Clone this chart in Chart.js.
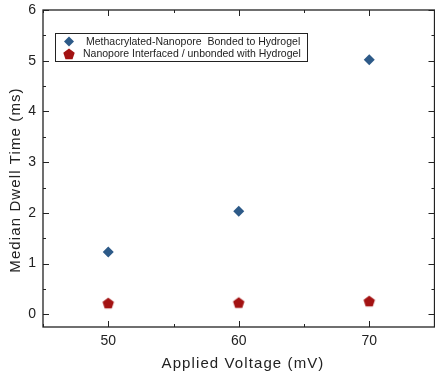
<!DOCTYPE html>
<html>
<head>
<meta charset="utf-8">
<script src="https://cdn.jsdelivr.net/npm/chart.js@4.4.0/dist/chart.umd.min.js"></script>
<style>
  html, body { margin: 0; padding: 0; background: #fff; overflow: hidden; }
  #wrap { width: 440px; height: 379px; position: relative; }
</style>
</head>
<body>
<div id="wrap"><canvas id="grafico"></canvas></div>
<script>
const voltagens = [50, 60, 70];
const tempoLigado = [1.23, 2.03, 5.02];
const tempoNaoLigado = [0.22, 0.23, 0.26];
const rotulosSeries = ['Methacrylated-Nanopore  Bonded to Hydrogel', 'Nanopore Interfaced / unbonded with Hydrogel'];
const tituloX = 'Applied Voltage (mV)';
const tituloY = 'Median Dwell Time (ms)';
const ticksX = [50, 60, 70];
const ticksY = [0, 1, 2, 3, 4, 5, 6];

const fonte = '"Liberation Sans", Arial, sans-serif';

// pentagono desenhado num canvas pequeno, usado como pointStyle
function criaPentagono(cor, r) {
  const c = document.createElement('canvas');
  const s = Math.ceil(r * 2 + 2);
  c.width = s; c.height = s;
  const g = c.getContext('2d');
  g.fillStyle = cor;
  g.beginPath();
  for (let i = 0; i < 5; i++) {
    const a = -Math.PI / 2 + i * 2 * Math.PI / 5;
    const x = s / 2 + r * Math.cos(a), y = s / 2 + r * Math.sin(a) + 0.5;
    if (i === 0) g.moveTo(x, y); else g.lineTo(x, y);
  }
  g.closePath();
  g.fill();
  return c;
}
const pentagono = criaPentagono('#a31212', 6);

const molduraTicks = {
  id: 'molduraTicks',
  afterDraw(chart) {
    const { ctx, chartArea: a, scales: { x, y } } = chart;
    ctx.save();
    ctx.strokeStyle = '#222';
    ctx.lineWidth = 1.3;
    ctx.strokeRect(a.left, a.top, a.right - a.left, a.bottom - a.top);
    ctx.lineWidth = 1;
    ctx.beginPath();
    for (let v = 45; v <= 75; v += 5) {
      const px = Math.round(x.getPixelForValue(v)) + 0.5;
      const len = v % 10 === 0 ? 6 : 3;
      ctx.moveTo(px, a.bottom); ctx.lineTo(px, a.bottom - len);
      ctx.moveTo(px, a.top); ctx.lineTo(px, a.top + len);
    }
    for (let v = 0; v <= 6; v += 0.5) {
      const py = Math.round(y.getPixelForValue(v)) + 0.5;
      const len = Number.isInteger(v) ? 6 : 3;
      ctx.moveTo(a.left, py); ctx.lineTo(a.left + len, py);
      ctx.moveTo(a.right, py); ctx.lineTo(a.right - len, py);
    }
    ctx.stroke();

    // titulos dos eixos
    ctx.fillStyle = '#222';
    ctx.font = '15px ' + fonte;
    ctx.letterSpacing = '1.1px';
    ctx.textAlign = 'center';
    ctx.textBaseline = 'middle';
    ctx.fillText(tituloX, 243, 364);
    ctx.save();
    ctx.translate(16, 180);
    ctx.rotate(-Math.PI / 2);
    ctx.fillText(tituloY, 0, 0);
    ctx.restore();
    ctx.letterSpacing = '0px';

    // legenda com moldura
    const bx = 55.5, by = 33.5, bw = 252, bh = 28;
    ctx.fillStyle = '#fff';
    ctx.fillRect(bx, by, bw, bh);
    ctx.strokeStyle = '#222';
    ctx.strokeRect(bx, by, bw, bh);
    ctx.font = '10.5px ' + fonte;
    ctx.textAlign = 'left';
    chart.data.datasets.forEach((ds, i) => {
      const cy = by + 8 + i * 12.5;
      if (ds.pointStyle === 'rectRot') {
        ctx.fillStyle = ds.backgroundColor;
        ctx.beginPath();
        ctx.moveTo(69, cy - 5); ctx.lineTo(74, cy); ctx.lineTo(69, cy + 5); ctx.lineTo(64, cy);
        ctx.closePath(); ctx.fill();
      } else {
        ctx.drawImage(ds.pointStyle, 69 - ds.pointStyle.width / 2, cy - ds.pointStyle.height / 2);
      }
      ctx.fillStyle = '#222';
      ctx.fillText(ds.label, i === 0 ? 86 : 83, cy + 0.5);
    });
    ctx.restore();
  }
};

new Chart(document.getElementById('grafico'), {
  type: 'scatter',
  plugins: [molduraTicks],
  data: {
    datasets: [
      { label: rotulosSeries[0], data: voltagens.map((v, i) => ({ x: v, y: tempoLigado[i] })), pointStyle: 'rectRot', pointRadius: 5.5, backgroundColor: '#2d5a88', borderColor: '#2d5a88', borderWidth: 0 },
      { label: rotulosSeries[1], data: voltagens.map((v, i) => ({ x: v, y: tempoNaoLigado[i] })), pointStyle: pentagono, backgroundColor: '#a31212', borderColor: '#a31212' }
    ]
  },
  options: {
    responsive: true,
    maintainAspectRatio: false,
    animation: false,
    layout: { padding: { top: 10, right: 1.5, left: 0, bottom: 0 } },
    plugins: { legend: { display: false }, tooltip: { enabled: false } },
    scales: {
      x: {
        type: 'linear', min: 45, max: 75,
        afterBuildTicks: (s) => { s.ticks = ticksX.map(v => ({ value: v })); },
        afterFit: (s) => { s.height = 52; s.paddingLeft = 0; s.paddingRight = 0; },
        grid: { display: false, drawTicks: false }, border: { display: false },
        ticks: { color: '#222', padding: 6, font: { family: fonte, size: 14 } }
      },
      y: {
        min: -0.25, max: 6,
        afterBuildTicks: (s) => { s.ticks = ticksY.map(v => ({ value: v })); },
        afterFit: (s) => { s.width = 43; s.paddingTop = 0; s.paddingBottom = 0; },
        grid: { display: false, drawTicks: false }, border: { display: false },
        ticks: { color: '#222', padding: 7, font: { family: fonte, size: 14 } }
      }
    }
  }
});
</script>
</body>
</html>
